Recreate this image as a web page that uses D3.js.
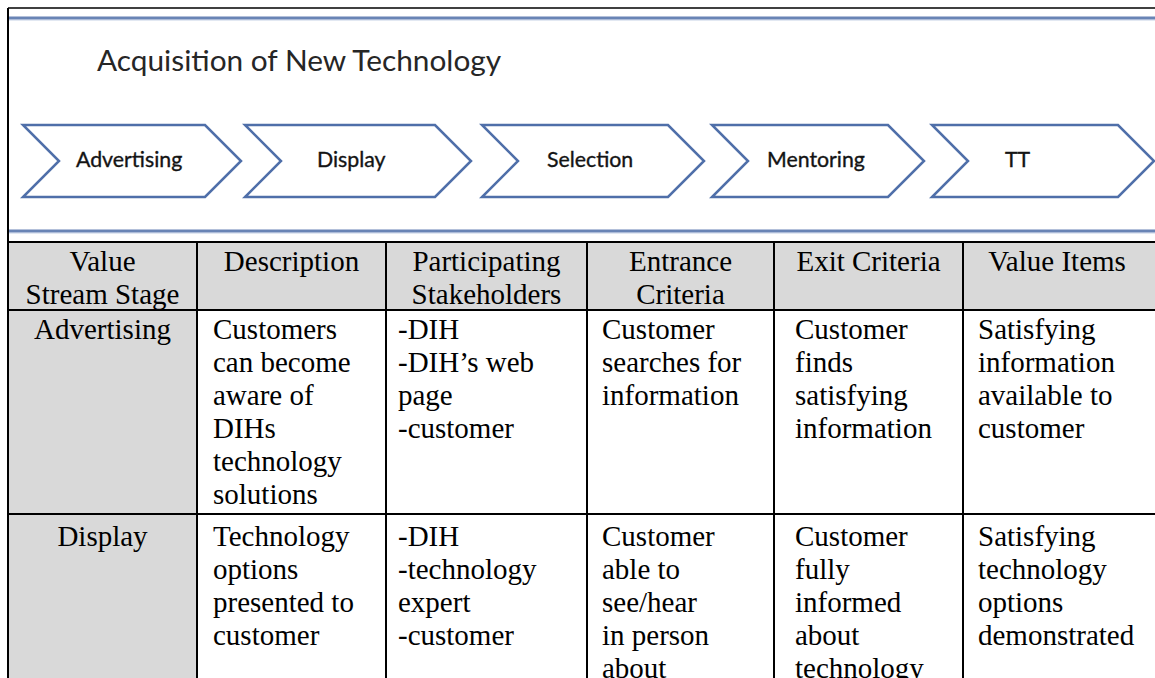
<!DOCTYPE html>
<html><head><meta charset="utf-8">
<script src="https://cdn.jsdelivr.net/npm/d3@7"></script>
<style>html,body{margin:0;padding:0;background:#fff;overflow:hidden}</style>
</head><body><svg id="c" width="1155" height="678"></svg>
<script>
// ---- content ----
const title = "Acquisition of New Technology";
const stages = ["Advertising", "Display", "Selection", "Mentoring", "TT"];
const headers = [["Value", "Stream Stage"], ["Description"], ["Participating", "Stakeholders"], ["Entrance", "Criteria"], ["Exit Criteria"], ["Value Items"]];
const rowStage = ["Advertising", "Display"];
const descriptions = [["Customers", "can become", "aware of", "DIHs", "technology", "solutions"], ["Technology", "options", "presented to", "customer"]];
const stakeholders = [["-DIH", "-DIH\u2019s web", "page", "-customer"], ["-DIH", "-technology", "expert", "-customer"]];
const entrance = [["Customer", "searches for", "information"], ["Customer", "able to", "see/hear", "in person", "about"]];
const exitCriteria = [["Customer", "finds", "satisfying", "information"], ["Customer", "fully", "informed", "about", "technology"]];
const valueItems = [["Satisfying", "information", "available to", "customer"], ["Satisfying", "technology", "options", "demonstrated"]];

// ---- layout ----
const chevLeft = [23, 245, 482, 712, 932];
const chevRight = [205, 435, 668, 888, 1118];
const chevTop = 125, chevBot = 197, chevDepth = 36;
const labelX = [76, 317, 547, 767, 1005];
const colEdges = [8, 197, 386, 587, 774, 963, 1160];
const rowEdges = [242, 310, 514, 760];
const padLeft = [0, 16, 12, 15, 21, 15];
const firstBase = [29, 29, 32];
const lineH = 33;
const serif = "'Liberation Serif','Times New Roman',serif";
const sans = "Lato,'Open Sans',sans-serif";

const svg = d3.select("#c");
const blue = "#4f6fa9";

// frame
svg.append("line").attr("x1", 8).attr("x2", 1160).attr("y1", 8).attr("y2", 8).attr("stroke", "#000").attr("stroke-width", 1.5);
svg.append("line").attr("x1", 8).attr("x2", 8).attr("y1", 8).attr("y2", 700).attr("stroke", "#000").attr("stroke-width", 2);
[18, 231].forEach(y => {
  svg.append("line").attr("x1", 9).attr("x2", 1160).attr("y1", y).attr("y2", y).attr("stroke", blue).attr("stroke-width", 3).attr("opacity", 0.85);
  svg.append("line").attr("x1", 9).attr("x2", 1160).attr("y1", y + 2).attr("y2", y + 2).attr("stroke", "#9fb3d6").attr("stroke-width", 1).attr("opacity", 0.6);
});

// title
svg.append("text").attr("x", 97).attr("y", 71).attr("font-family", sans).attr("font-size", 29.8)
  .attr("fill", "#262626").text(title);

// chevrons
const mid = (chevTop + chevBot) / 2;
const g = svg.append("g");
g.selectAll("path").data(stages).join("path")
  .attr("d", (d, i) => {
    const l = chevLeft[i], r = chevRight[i];
    return `M${l},${chevTop}L${r},${chevTop}L${r + chevDepth},${mid}L${r},${chevBot}L${l},${chevBot}L${l + chevDepth},${mid}Z`;
  })
  .attr("fill", "#fff").attr("stroke", blue).attr("stroke-width", 2.5).attr("stroke-linejoin", "miter");
g.selectAll("text").data(stages).join("text")
  .attr("x", (d, i) => labelX[i]).attr("y", mid + 6)
  .attr("font-family", sans).attr("font-size", 21.3).attr("fill", "#141414")
  .attr("stroke", "#141414").attr("stroke-width", 0.35)
  .text(d => d);

// table backgrounds
const gray = "#d9d9d9";
svg.append("rect").attr("x", colEdges[0]).attr("y", rowEdges[0]).attr("width", colEdges[6] - colEdges[0]).attr("height", rowEdges[1] - rowEdges[0]).attr("fill", gray);
svg.append("rect").attr("x", colEdges[0]).attr("y", rowEdges[1]).attr("width", colEdges[1] - colEdges[0]).attr("height", rowEdges[3] - rowEdges[1]).attr("fill", gray);

// cell text
function cellLines(col, row, lines, anchor) {
  const x0 = colEdges[col], x1 = colEdges[col + 1];
  const xEnd = col === 5 ? 1151 : x1;
  const x = anchor === "middle" ? (x0 + xEnd) / 2 : x0 + padLeft[col];
  svg.append("g").selectAll("text").data(lines).join("text")
    .attr("x", x).attr("y", (d, i) => rowEdges[row] + firstBase[row] + i * lineH)
    .attr("text-anchor", anchor).attr("font-family", serif).attr("font-size", 29).attr("fill", "#000")
    .text(d => d);
}
headers.forEach((h, c) => cellLines(c, 0, h, "middle"));
rowStage.forEach((s, r) => {
  cellLines(0, r + 1, [s], "middle");
  cellLines(1, r + 1, descriptions[r], "start");
  cellLines(2, r + 1, stakeholders[r], "start");
  cellLines(3, r + 1, entrance[r], "start");
  cellLines(4, r + 1, exitCriteria[r], "start");
  cellLines(5, r + 1, valueItems[r], "start");
});

// grid lines
rowEdges.slice(0, 3).forEach(y => {
  svg.append("line").attr("x1", 7).attr("x2", 1160).attr("y1", y).attr("y2", y).attr("stroke", "#000").attr("stroke-width", 2);
});
colEdges.slice(0, 6).forEach(x => {
  svg.append("line").attr("x1", x).attr("x2", x).attr("y1", rowEdges[0]).attr("y2", 700).attr("stroke", "#000").attr("stroke-width", 2);
});
</script></body></html>
